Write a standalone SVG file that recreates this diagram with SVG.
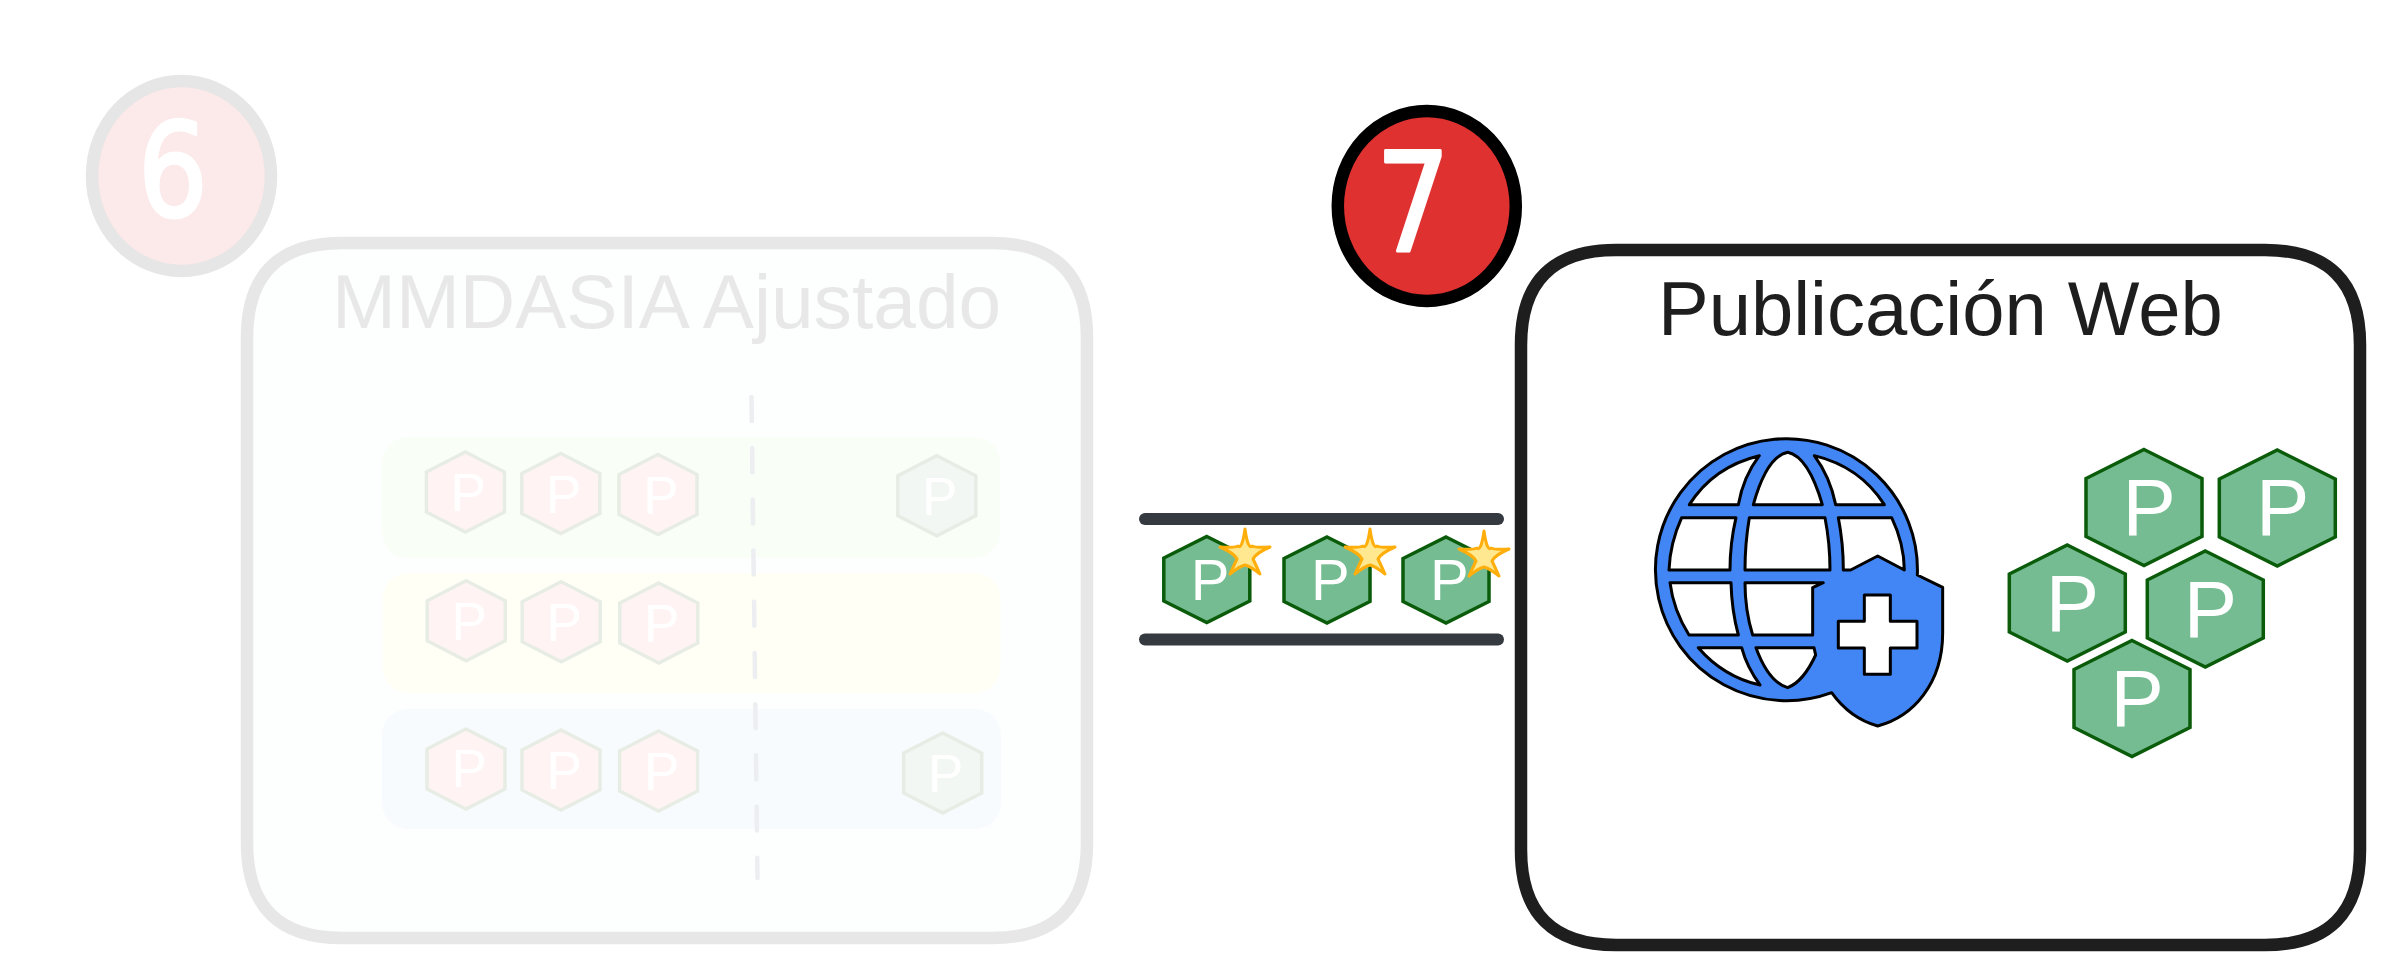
<svg xmlns="http://www.w3.org/2000/svg" xmlns:xlink="http://www.w3.org/1999/xlink" width="2390" height="976" viewBox="0 0 2390 976">
<style>
text{font-family:"Liberation Sans",Arial,sans-serif}
.pl{font-size:80px;fill:#fff}
.ps{font-size:58px;fill:#fff}
.pf{font-size:53px;fill:#fff}
.hg{fill:#76bc93;stroke:#0a5c0a;stroke-width:3.500}
.hf{fill:#fff4f3;stroke:#e7ede4;stroke-width:3.500}
.hd{fill:#f2f7f3;stroke:#e7ede4;stroke-width:3.500}
.row{stroke:none}
.bar{stroke:#343a40;stroke-width:12;stroke-linecap:round;fill:none}
.star{fill:#ffe88f;stroke:#ffae0b;stroke-width:3;stroke-linejoin:round}
.digit{fill:#fff;stroke:#fff;stroke-width:3;stroke-linejoin:round}
</style>
<defs>
<polygon id="hexL" points="0,-58 58,-29 58,29 0,58 -58,29 -58,-29"/>
<polygon id="hexS" points="0,-43 43,-21.5 43,21.5 0,43 -43,21.5 -43,-21.5"/>
<polygon id="hexF" points="0,-40 39,-20 39,20 0,40 -39,20 -39,-20"/>
<path id="star" d="M1245 529 Q1248 550 1252 546 Q1256 548 1270 547 Q1256 553 1253 559 Q1255 563 1260 574 Q1250 566 1245 565 Q1240 566 1230 574 Q1235 563 1237 559 Q1234 553 1220 547 Q1234 548 1238 546 Q1242 550 1245 529Z"/>
</defs>
<rect width="2390" height="976" fill="#fff"/>

<g id="badge-6">
<ellipse cx="181.500" cy="176" rx="89.500" ry="95" fill="#fce9e9" stroke="#e6e6e6" stroke-width="12.500"/>
<text class="digit" transform="translate(173 216) scale(.85 1)" font-size="130" text-anchor="middle" style="font-family:'DejaVu Sans',sans-serif">6</text>
</g>

<g id="panel-mmdasia">
<path d="M342 243H992Q1087 243 1087 338V843Q1087 938 992 938H342Q247 938 247 843V338Q247 243 342 243Z" fill="#fdfefe" stroke="#e7e7e7" stroke-width="12.500"/>
<text x="332" y="327.500" font-size="76.700" fill="#e8e8e8">MMDASIA Ajustado</text>
</g>

<g id="rows">
<rect class="row" x="382" y="437" width="618" height="121" rx="26" fill="#f9fef6"/>
<rect class="row" x="382.500" y="573" width="618" height="120" rx="26" fill="#fffff5"/>
<rect class="row" x="382" y="709" width="619" height="120" rx="26" fill="#f8fbfe"/>
</g>

<g id="divider">
<line x1="751.500" y1="397" x2="757.500" y2="878" stroke="#eceef1" stroke-width="4.500" stroke-linecap="round" stroke-dasharray="24 27.200"/>
</g>

<g id="faded-hexes">
<g id="f1"><use href="#hexF" x="465.400" y="492" class="hf"/><text class="pf" x="450.600" y="511">P</text></g>
<g id="f2"><use href="#hexF" x="560.800" y="493.500" class="hf"/><text class="pf" x="546" y="512.500">P</text></g>
<g id="f3"><use href="#hexF" x="658" y="494.500" class="hf"/><text class="pf" x="643.200" y="513.500">P</text></g>
<g id="f4"><use href="#hexF" x="936.800" y="495.700" class="hd"/><text class="pf" x="922" y="514.700">P</text></g>
<g id="f5"><use href="#hexF" x="466.200" y="620.800" class="hf"/><text class="pf" x="451.400" y="639.800">P</text></g>
<g id="f6"><use href="#hexF" x="561.200" y="621.800" class="hf"/><text class="pf" x="546.400" y="640.800">P</text></g>
<g id="f7"><use href="#hexF" x="658.800" y="623" class="hf"/><text class="pf" x="644" y="642">P</text></g>
<g id="f8"><use href="#hexF" x="466" y="769" class="hf"/><text class="pf" x="451.500" y="787">P</text></g>
<g id="f9"><use href="#hexF" x="561" y="770" class="hf"/><text class="pf" x="546.500" y="789">P</text></g>
<g id="f10"><use href="#hexF" x="658.600" y="771" class="hf"/><text class="pf" x="644" y="790">P</text></g>
<g id="f11"><use href="#hexF" x="942.700" y="773" class="hd"/><text class="pf" x="928" y="792">P</text></g>
</g>

<g id="connectors">
<line class="bar" x1="1145" y1="519" x2="1498" y2="519"/>
<line class="bar" x1="1145" y1="639.500" x2="1498" y2="639.500"/>
</g>

<g id="flow-hexes">
<g id="s1"><use href="#hexS" x="1206.800" y="579.500" class="hg"/><text class="ps" x="1190.800" y="600">P</text><use href="#star" class="star"/></g>
<g id="s2"><use href="#hexS" x="1327" y="580" class="hg"/><text class="ps" x="1311" y="600">P</text><use href="#star" class="star" x="125"/></g>
<g id="s3"><use href="#hexS" x="1446" y="580" class="hg"/><text class="ps" x="1430" y="600">P</text><use href="#star" class="star" x="239" y="2"/></g>
</g>

<g id="badge-7">
<ellipse cx="1426.800" cy="206" rx="89" ry="95" fill="#e03131" stroke="#000" stroke-width="12.500"/>
<text class="digit" transform="translate(1413 251) scale(.85 1)" font-size="138" text-anchor="middle" style="font-family:'DejaVu Sans',sans-serif">7</text>
</g>

<g id="panel-web">
<path d="M1616 250H2265Q2360 250 2360 345V850Q2360 945 2265 945H1616Q1521 945 1521 850V345Q1521 250 1616 250Z" fill="#fff" stroke="#1e1e1e" stroke-width="12.500"/>
<text x="1658" y="335" font-size="76" fill="#1e1e1e">Publicación Web</text>
</g>

<g id="globe-shield" transform="translate(1630 420) scale(0.33333)">
<path fill="#4285f4" stroke="#000" stroke-width="9" stroke-linejoin="round" fill-rule="evenodd" d="M862 465A393 393 0 1 0 605 818Q660 895 743 918C850 890 938 790 938 640V502Z
M388 107Q340 170 325 254H178Q250 140 388 107Z
M370 254Q410 110 473 97Q535 110 577 254Z
M553 107Q600 170 617 254H763Q690 140 553 107Z
M155 293H318Q300 370 300 450H117Q120 370 155 293Z
M358 293H585Q600 370 600 450H345Q345 370 358 293Z
M625 293H785Q822 370 823 450L743 408L662 450H640Q640 370 625 293Z
M120 488H303Q305 570 325 645H177Q130 570 120 488Z
M345 488H580L548 503V645H368Q345 570 345 488Z
M205 683H335Q350 740 390 795Q280 770 205 683Z
M378 683H552L557 705Q520 785 473 803Q415 785 378 683Z
M703 525H781V604H861V684H781V763H703V684H625V604H703Z"/>
</g>

<g id="web-hexes">
<g id="w1"><use href="#hexL" x="2144" y="507.500" class="hg"/><text class="pl" x="2122.500" y="535.300">P</text></g>
<g id="w2"><use href="#hexL" x="2277.300" y="508" class="hg"/><text class="pl" x="2256" y="535.300">P</text></g>
<g id="w3"><use href="#hexL" x="2067.300" y="603" class="hg"/><text class="pl" x="2045.800" y="631">P</text></g>
<g id="w4"><use href="#hexL" x="2205.300" y="609" class="hg"/><text class="pl" x="2183.800" y="637">P</text></g>
<g id="w5"><use href="#hexL" x="2132" y="698.500" class="hg"/><text class="pl" x="2110.500" y="726">P</text></g>
</g>
</svg>
